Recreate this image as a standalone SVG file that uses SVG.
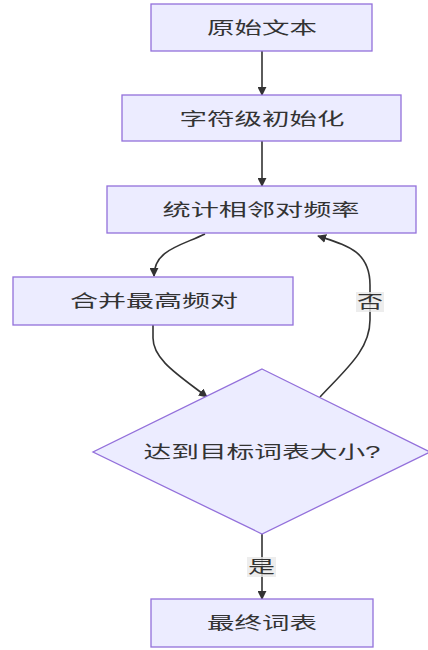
<svg xmlns="http://www.w3.org/2000/svg" width="428" height="650" viewBox="0 0 428 650">
<defs>
<marker id="arrow" viewBox="0 0 10 10" refX="9" refY="5" markerWidth="9" markerHeight="9" markerUnits="userSpaceOnUse" orient="auto">
<path d="M0,0 L10,5 L0,10 z" fill="#333333"/>
</marker>
<style>
.node{fill:#ECECFF;stroke:#9370DB;stroke-width:1.3}
.t{font-family:"Liberation Sans","Noto Sans CJK SC",sans-serif;font-size:17px;fill:#333333;text-anchor:middle;dominant-baseline:central}
.edge{fill:none;stroke:#333333;stroke-width:1.6}
.lbg{fill:#E8E8E8;opacity:0.8}
</style>
</defs>
<rect width="428" height="650" fill="#ffffff"/>
<g id="edges">
<path class="edge" d="M262,51 L262,95" marker-end="url(#arrow)"/>
<path class="edge" d="M262,141 L262,186" marker-end="url(#arrow)"/>
<path class="edge" d="M205,234 C180,246 154,250 154,276" marker-end="url(#arrow)"/>
<path class="edge" d="M153,325 L153,338 C153,360 180,376 207,397" marker-end="url(#arrow)"/>
<path class="edge" d="M320,397 C345,370 370,350 370,320 L370,285 C370,250 345,245 318,236" marker-end="url(#arrow)"/>
<path class="edge" d="M262,534 L262,599" marker-end="url(#arrow)"/>
<g id="label-no"><rect class="lbg" x="356" y="292" width="28" height="20"/><text class="t" x="370" y="302" textLength="26" lengthAdjust="spacingAndGlyphs">否</text></g>
<g id="label-yes"><rect class="lbg" x="247" y="557" width="29" height="20"/><text class="t" x="261.5" y="567" textLength="27" lengthAdjust="spacingAndGlyphs">是</text></g>
</g>
<g id="n1"><rect class="node" x="151" y="4" width="221" height="47"/><text class="t" x="262" y="28" textLength="110" lengthAdjust="spacingAndGlyphs">原始文本</text></g>
<g id="n2"><rect class="node" x="122" y="95" width="279" height="46"/><text class="t" x="262" y="119" textLength="165" lengthAdjust="spacingAndGlyphs">字符级初始化</text></g>
<g id="n3"><rect class="node" x="107" y="186" width="309" height="47"/><text class="t" x="261" y="210" textLength="197" lengthAdjust="spacingAndGlyphs">统计相邻对频率</text></g>
<g id="n4"><rect class="node" x="13" y="277" width="280" height="48"/><text class="t" x="154" y="301" textLength="168" lengthAdjust="spacingAndGlyphs">合并最高频对</text></g>
<g id="n5"><polygon class="node" points="262,369 430,452 262,534 93,452"/><text class="t" x="262" y="452" textLength="237" lengthAdjust="spacingAndGlyphs">达到目标词表大小?</text></g>
<g id="n6"><rect class="node" x="151" y="599" width="222" height="48"/><text class="t" x="262" y="623" textLength="110" lengthAdjust="spacingAndGlyphs">最终词表</text></g>
</svg>
